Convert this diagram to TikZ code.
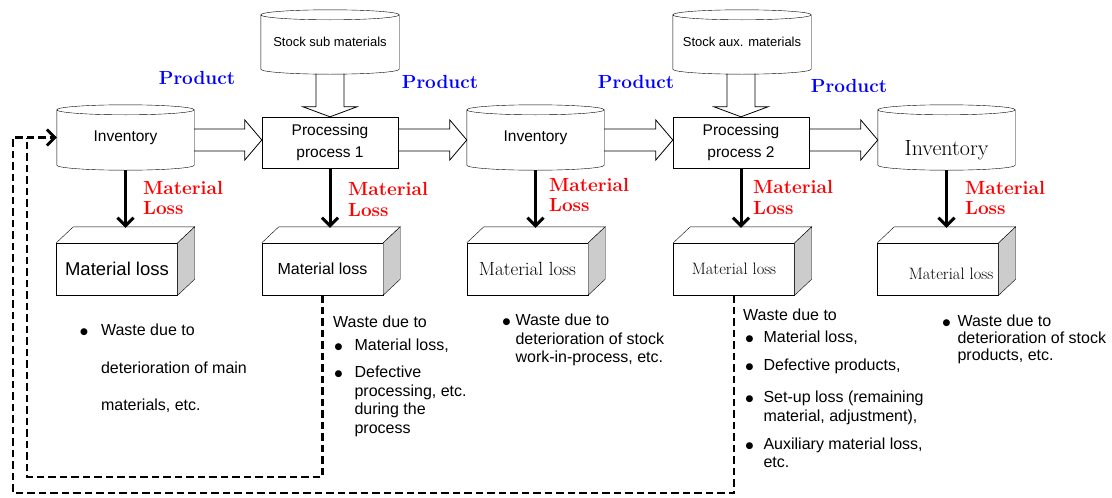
\documentclass[tikz,border=0pt]{standalone}
\usepackage{fontspec}
\newfontfamily\arialfont{Liberation Sans}
\newfontfamily\symfont{DejaVu Sans}
\usetikzlibrary{arrows.meta,calc}
\definecolor{prodblue}{RGB}{0,0,255}
\definecolor{lossred}{RGB}{255,0,0}
\definecolor{sidegray}{RGB}{204,204,204}
\newcommand{\blt}{\raisebox{1pt}{\symfont\fontsize{9}{9}\selectfont ●}}
\newcommand{\drawcyl}[1]{%
  \draw let \p1=($(#1.east)-(#1.west)$) in
    (#1.north west) -- (#1.south west)
    arc[start angle=180,end angle=360,x radius=0.5*\x1,y radius=5pt]
    -- (#1.north east)
    (#1.north) ellipse[x radius=0.5*\x1,y radius=5pt];}
\newcommand{\drawdepth}[1]{%
  \draw (#1.north west) -- ++(17,-16) -- ($(#1.north east)+(17,-16)$) -- (#1.north east);
  \draw[fill=sidegray] (#1.north east) -- ++(17,-16) -- ($(#1.south east)+(17,-16)$) -- (#1.south east) -- cycle;}
\newcommand{\fatright}[2]{%
  \draw[fatarrow] let \p1=(#1.east), \p2=(#2.west), \n1={0.5*(\y1+\y2)} in
    (\x1,\n1+11pt) -- (\x2-17pt,\n1+11pt) -- (\x2-17pt,\n1+20pt) -- (\x2,\n1)
    -- (\x2-17pt,\n1-20pt) -- (\x2-17pt,\n1-11pt) -- (\x1,\n1-11pt);}
\newcommand{\fatdown}[2]{%
  \draw[fatarrow] let \p1=(#1.south), \p2=(#2.north) in
    (\x2-14pt,\y1-4.5pt) -- (\x2-14pt,\y2+10pt) -- (\x2-27pt,\y2+10pt) -- (\x2,\y2)
    -- (\x2+27pt,\y2+10pt) -- (\x2+14pt,\y2+10pt) -- (\x2+14pt,\y1-4.5pt);}
\begin{document}
\begin{tikzpicture}[x=1pt,y=-1pt,
  cylnode/.style={minimum width=137pt,minimum height=55pt,inner sep=0pt,font=\arialfont\fontsize{15.5}{18}\selectfont},
  stocknode/.style={minimum width=138pt,minimum height=54pt,inner sep=0pt,font=\arialfont\fontsize{13}{15}\selectfont},
  procbox/.style={draw,minimum width=136pt,minimum height=51pt,inner sep=0pt,align=center,font=\arialfont\fontsize{15.5}{22}\selectfont},
  lossbox/.style={draw,minimum width=121pt,minimum height=52pt,inner sep=0pt},
  fatarrow/.style={line width=0.8pt},
  lossarrow/.style={line width=3pt,-{Straight Barb[length=8pt,width=16pt]}},
  lossword/.style={anchor=west,inner sep=0pt,align=left,text=lossred,font=\bfseries\fontsize{19}{20.5}\selectfont},
  prodword/.style={inner sep=0pt,text=prodblue,font=\bfseries\fontsize{19}{21}\selectfont},
  notes/.style={anchor=north west,inner sep=0pt,font=\arialfont\fontsize{16}{18.5}\selectfont},
  returnline/.style={line width=2.8pt,dash pattern=on 7.5pt off 4pt}]
\useasboundingbox (0,0) rectangle (1112,498);
% main flow
\node[cylnode] (inv1) at (125.5,137.5) {Inventory};
\node[procbox] (proc1) at (330,142.5) {Processing\\process 1};
\node[cylnode] (inv2) at (535.5,137.5) {Inventory};
\node[procbox] (proc2) at (741,142.5) {Processing\\process 2};
\node[cylnode,label={[font=\fontsize{22}{24}\selectfont,yshift=-13pt]center:Inventory}] (inv3) at (946.5,137.5) {};
\node[stocknode] (sub) at (330,42) {Stock sub materials};
\node[stocknode] (aux) at (742,42) {Stock aux. materials};
\foreach \cyl in {inv1,inv2,inv3,sub,aux} {\drawcyl{\cyl}}
\fatright{inv1}{proc1}
\fatright{proc1}{inv2}
\fatright{inv2}{proc2}
\fatright{proc2}{inv3}
\fatdown{sub}{proc1}
\fatdown{aux}{proc2}
\node[prodword] (prod1) at (197,78) {Product};
\node[prodword] (prod2) at (440,82) {Product};
\node[prodword] (prod3) at (636,82) {Product};
\node[prodword] (prod4) at (849,86) {Product};
% losses
\node[lossbox,font=\arialfont\fontsize{18.5}{20}\selectfont] (ml1) at (117,269) {Material loss};
\node[lossbox,font=\arialfont\fontsize{16}{18}\selectfont] (ml2) at (322.5,269) {Material loss};
\node[lossbox,font=\fontsize{19}{21}\selectfont] (ml3) at (527.5,269) {Material loss};
\node[lossbox,font=\fontsize{16.5}{18}\selectfont] (ml4) at (734,269) {Material loss};
\node[lossbox,label={[anchor=east,xshift=-2pt,yshift=-5pt,font=\fontsize{16.5}{18}\selectfont]east:Material loss}] (ml5) at (938,269) {};
\foreach \bx in {ml1,ml2,ml3,ml4,ml5} {\drawdepth{\bx}}
\foreach \src/\dst/\gap in {inv1/ml1/5,proc1/ml2/0,inv2/ml3/5,proc2/ml4/0,inv3/ml5/5}
  \draw[lossarrow] ($(\src.south)+(0,\gap)$) -- ($(\src.south |- \dst.north)+(0,-15)$);
\node[lossword] (loss1) at (143,198) {Material\\Loss};
\node[lossword] (loss2) at (348,199.5) {Material\\Loss};
\node[lossword] (loss3) at (549,195) {Material\\Loss};
\node[lossword] (loss4) at (753,197.5) {Material\\Loss};
\node[lossword] (loss5) at (965,198) {Material\\Loss};
% notes
\node[notes] (note1) at (80,322.5) {\begin{tabular}{@{}c@{\hspace{13pt}}l@{}}
  \blt & Waste due to\\[19pt]
  & deterioration of main\\[19pt]
  & materials, etc.
\end{tabular}};
\node[notes] (note2) at (333,314.5) {\begin{tabular}{@{\hspace{1.5pt}}c@{\hspace{12pt}}l@{}}
  \multicolumn{2}{@{}l@{}}{Waste due to}\\[4.5pt]
  \blt & Material loss,\\[8.5pt]
  \blt & Defective\\
  & processing, etc.\\
  & during the\\
  & process
\end{tabular}};
\node[notes] (note3) at (502.5,312.5) {\begin{tabular}{@{}c@{\hspace{5pt}}l@{}}
  \blt & Waste due to\\
  & deterioration of stock\\
  & work-in-process, etc.
\end{tabular}};
\node[notes] (note4) at (743,307.5) {\begin{tabular}{@{\hspace{2.5pt}}c@{\hspace{10pt}}l@{}}
  \multicolumn{2}{@{}l@{}}{Waste due to}\\[3.5pt]
  \blt & Material loss,\\[9.5pt]
  \blt & Defective products,\\[13.5pt]
  \blt & Set-up loss (remaining\\
  & material, adjustment),\\[9.5pt]
  \blt & Auxiliary material loss,\\
  & etc.
\end{tabular}};
\node[notes,font=\arialfont\fontsize{16}{17}\selectfont] (note5) at (942.5,314.5) {\begin{tabular}{@{}c@{\hspace{7pt}}l@{}}
  \blt & Waste due to\\
  & deterioration of stock\\
  & products, etc.
\end{tabular}};
% return of losses
\coordinate (loopin) at (27,477);
\coordinate (loopout) at (13,493);
\draw[returnline] (ml2.south) |- (loopin) -- (loopin |- inv1.west);
\draw[returnline,-{Straight Barb[length=8pt,width=16pt]}] (ml4.south) |- (loopout) |- (inv1.west);
\end{tikzpicture}
\end{document}
